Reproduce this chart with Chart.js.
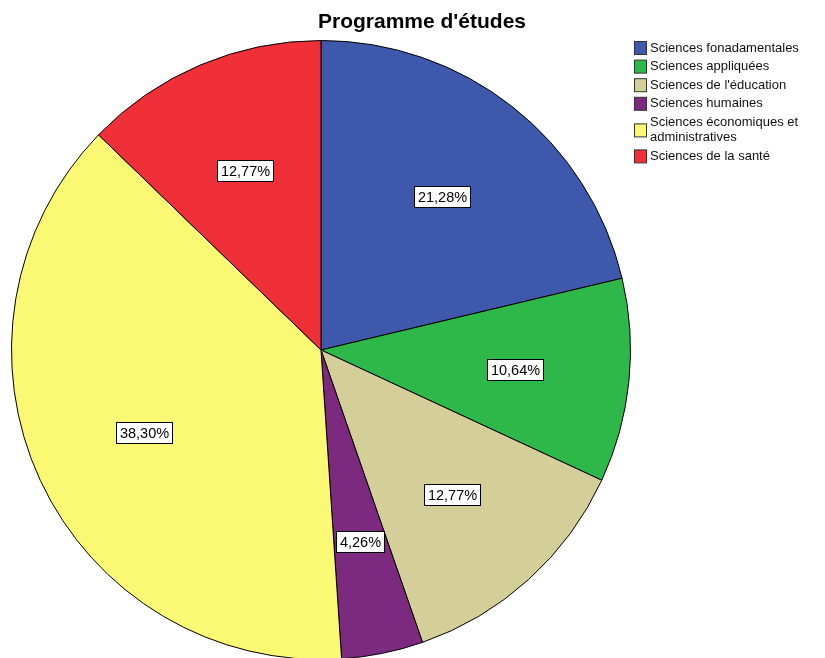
<!DOCTYPE html>
<html><head><meta charset="utf-8">
<script src="https://cdn.jsdelivr.net/npm/chart.js@4"></script>
<style>
html,body{margin:0;padding:0;background:#fff;overflow:hidden;width:825px;height:658px}
#wrap{position:absolute;left:0;top:0;width:825px;height:672px}
</style></head><body>
<div id="wrap"><canvas id="c" width="825" height="672"></canvas></div>
<script>
const titleText = "Programme d'études";
const categories = ["Sciences fonadamentales","Sciences appliquées","Sciences de l'éducation","Sciences humaines",["Sciences économiques et","administratives"],"Sciences de la santé"];
const values = [21.28, 10.64, 12.77, 4.26, 38.30, 12.77];
const valueLabels = ["21,28%","10,64%","12,77%","4,26%","38,30%","12,77%"];
const colors = ["#3e58ac","#2fb84a","#d4ce98","#7c2a80","#fbf874","#ef3039"];

const overlay = {
  id:'overlay',
  afterDatasetsDraw(chart){
    const ctx = chart.ctx;
    const meta = chart.getDatasetMeta(0);
    ctx.save();
    ctx.font = '14.5px "Liberation Sans", Arial, sans-serif';
    ctx.textBaseline = 'middle';
    ctx.textAlign = 'center';
    meta.data.forEach((arc,i)=>{
      const mid = (arc.startAngle+arc.endAngle)/2;
      const r = arc.outerRadius*0.63;
      const x = arc.x + Math.cos(mid)*r;
      const y = arc.y + Math.sin(mid)*r;
      const t = valueLabels[i];
      const w = Math.round(ctx.measureText(t).width + 7);
      const h = 21;
      const bx = Math.round(x-w/2)+0.5, by = Math.round(y-h/2)+0.5;
      ctx.fillStyle='#fff';
      ctx.fillRect(bx, by, w, h);
      ctx.strokeStyle='#000'; ctx.lineWidth=1;
      ctx.strokeRect(bx, by, w, h);
      ctx.fillStyle='#000';
      ctx.fillText(t, bx+w/2, by+h/2+1);
    });
    // title
    ctx.font = 'bold 21px "Liberation Sans", Arial, sans-serif';
    ctx.textAlign='center';
    ctx.fillText(titleText, 422, 22);
    // legend
    ctx.font = '13px "Liberation Sans", Arial, sans-serif';
    ctx.textAlign='left';
    let y = 48;
    categories.forEach((c,i)=>{
      const lines = Array.isArray(c)?c:[c];
      const boxY = lines.length>1 ? y+8 : y;
      ctx.fillStyle = colors[i];
      ctx.fillRect(634.5, boxY-6.5, 12, 13);
      ctx.strokeStyle='#333'; ctx.lineWidth=1;
      ctx.strokeRect(634.5, boxY-6.5, 12, 13);
      ctx.fillStyle='#111';
      lines.forEach((l,j)=>ctx.fillText(l, 650, y+j*15.5));
      y += lines.length>1 ? 34 : 18.6;
    });
    ctx.restore();
  }
};

new Chart(document.getElementById('c'),{
  type:'pie',
  data:{labels:categories.map(c=>Array.isArray(c)?c.join(' '):c),
    datasets:[{data:values, backgroundColor:colors, borderColor:'#000', borderWidth:1}]},
  options:{
    responsive:false, animation:false,
    layout:{padding:{left:11, top:40, right:194, bottom:12}},
    plugins:{legend:{display:false}, tooltip:{enabled:false}, title:{display:false}}
  },
  plugins:[overlay]
});
</script>
</body></html>
